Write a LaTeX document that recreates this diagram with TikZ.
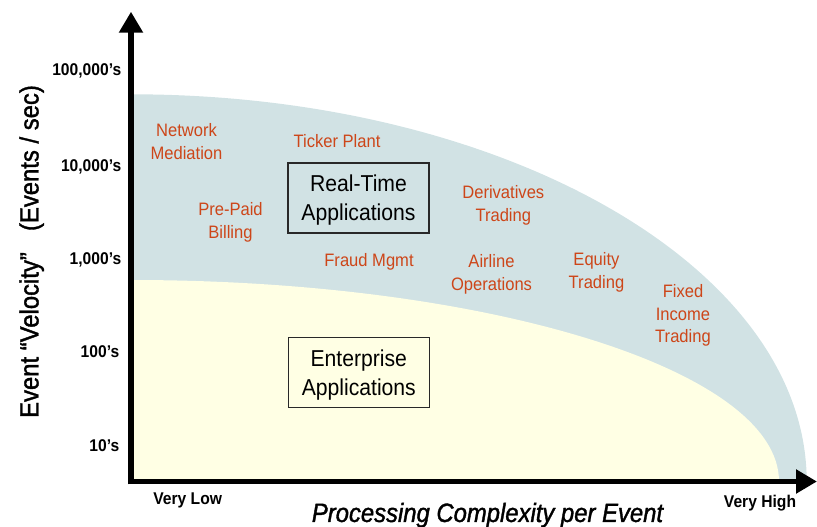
\documentclass[tikz,border=0pt]{standalone}
\usepackage{fontspec}
\setmainfont{Liberation Sans}
\newfontfamily\nf{Liberation Sans}[FakeStretch=0.92]
\newfontfamily\nftitle{Liberation Sans}[FakeStretch=0.9,FakeBold=1.4]
\usetikzlibrary{arrows.meta}
\definecolor{rtblue}{RGB}{209,226,228}
\definecolor{entyellow}{RGB}{255,255,228}
\definecolor{apptext}{RGB}{205,70,25}
\definecolor{boxline}{RGB}{40,40,40}
\newcommand\lnstrut{\rule[-0.234em]{0pt}{1.184em}}
\tikzset{
  app/.style={text=apptext, font=\nf\fontsize{18}{22.8}\selectfont, align=center, inner sep=0pt},
  tick/.style={font=\nf\bfseries\fontsize{17}{20}\selectfont, anchor=east, inner sep=0pt},
  endlabel/.style={font=\nf\bfseries\fontsize{17}{20}\selectfont, inner sep=0pt},
  catbox/.style={draw=boxline, line width=1.2pt, minimum width=141pt, minimum height=70pt,
    align=center, font=\nf\fontsize{23}{29.5}\selectfont, inner sep=0pt},
  axisline/.style={line width=5.6pt, -{Triangle[length=21pt,width=23pt]}},
  ytitlestyle/.style={inner sep=0pt, font=\nftitle\fontsize{26.5}{30}\selectfont},
  xtitlestyle/.style={inner sep=0pt, font=\nftitle\itshape\fontsize{26.5}{30}\selectfont},
}
\begin{document}
\begin{tikzpicture}[x=1pt,y=-1pt]
\useasboundingbox (0,0) rectangle (817,527);
% regions
\coordinate (O) at (131,481.5);
\coordinate (blueTop) at (131,94.3);
\coordinate (yelTop) at (131,280);
\fill[rtblue] (O) -- (blueTop) arc[start angle=90,end angle=0,x radius=675.7pt,y radius=387.2pt] -- cycle;
\fill[entyellow] (O) -- (yelTop) arc[start angle=90,end angle=0,x radius=648pt,y radius=201.5pt] -- cycle;
% category boxes
\node[catbox] (rt) at (358.5,198) {\lnstrut Real-Time\\\lnstrut Applications};
\node[catbox] (ent) at (358.8,372.8) {\lnstrut Enterprise\\\lnstrut Applications};
% application labels
\node[app] (netmed) at (186.5,141.8) {\lnstrut Network\\\lnstrut Mediation};
\node[app] (ticker) at (337,141.5) {\lnstrut Ticker Plant};
\node[app] (prepaid) at (230.5,220.8) {\lnstrut Pre-Paid\\\lnstrut Billing};
\node[app] (deriv) at (503.3,203.7) {\lnstrut Derivatives\\\lnstrut Trading};
\node[app] (fraud) at (369,259.7) {\lnstrut Fraud Mgmt};
\node[app] (airline) at (491.5,272.9) {\lnstrut Airline\\\lnstrut Operations};
\node[app] (equity) at (596.5,270.3) {\lnstrut Equity\\\lnstrut Trading};
\node[app] (fixed) at (683,313.6) {\lnstrut Fixed\\\lnstrut Income\\\lnstrut Trading};
% axes
\coordinate (yBot) at (131,484.3);
\coordinate (yTip) at (131,11.7);
\coordinate (xStart) at (128.2,481.5);
\coordinate (xTip) at (817,481.5);
\draw[axisline] (yBot) -- (yTip);
\draw[axisline] (xStart) -- (xTip);
% tick labels
\node[tick] (t5) at (121.5,69.5) {\lnstrut 100,000’s};
\node[tick] (t4) at (121.5,165) {\lnstrut 10,000’s};
\node[tick] (t3) at (121.5,258.5) {\lnstrut 1,000’s};
\node[tick] (t2) at (119.5,351.5) {\lnstrut 100’s};
\node[tick] (t1) at (119.5,445) {\lnstrut 10’s};
\node[endlabel] (vlow) at (187.7,498.5) {\lnstrut Very Low};
\node[endlabel] (vhigh) at (760,501.5) {\lnstrut Very High};
% axis titles
\node[xtitlestyle] (xtitle) at (487.5,512.5)
  {\lnstrut Processing Complexity per Event};
\node[ytitlestyle, rotate=90] (ytitle) at (29,251.5)
  {\lnstrut Event “Velocity”\hspace{0.55em} (Events / sec)};
\end{tikzpicture}
\end{document}
